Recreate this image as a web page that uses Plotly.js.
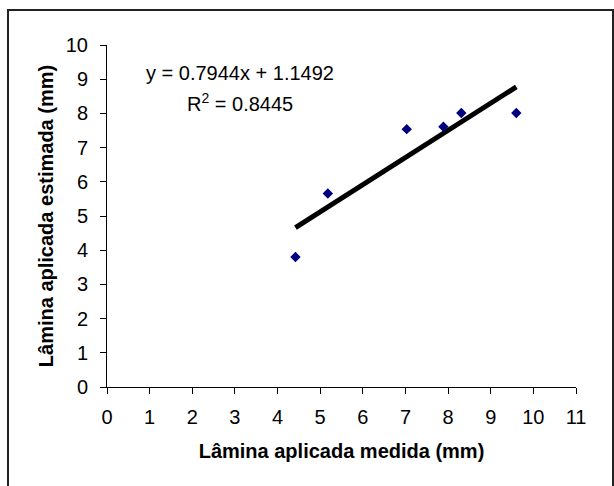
<!DOCTYPE html>
<html>
<head>
<meta charset="utf-8">
<script src="https://cdn.plot.ly/plotly-3.0.1.min.js"></script>
<style>
  html, body { margin: 0; padding: 0; background: #fff; }
  #chart { width: 614px; height: 486px; }
</style>
</head>
<body>
<div id="chart"></div>
<script>
// Data
const medida   = [4.42, 5.18, 7.03, 7.89, 8.31, 9.60];   // Lâmina aplicada medida (mm)
const estimada = [3.80, 5.66, 7.54, 7.61, 8.01, 8.01];   // Lâmina aplicada estimada (mm)
const slope = 0.7944;
const intercept = 1.1492;
const r2 = 0.8445;
const xTickVals = [0,1,2,3,4,5,6,7,8,9,10,11];
const yTickVals = [0,1,2,3,4,5,6,7,8,9,10];

const xMin = Math.min(...medida), xMax = Math.max(...medida);
const trendX = [xMin, xMax];
const trendY = trendX.map(v => slope * v + intercept);

const FONT = '"Liberation Sans", Arial, sans-serif';

const traces = [
  {
    x: trendX, y: trendY, type: 'scatter', mode: 'lines',
    line: { color: '#000000', width: 5 },
    hoverinfo: 'skip', showlegend: false
  },
  {
    x: medida, y: estimada, type: 'scatter', mode: 'markers',
    marker: { symbol: 'diamond', size: 8, color: '#000080' },
    showlegend: false
  }
];

const axisCommon = {
  showgrid: false, zeroline: false, showline: true,
  linecolor: '#000000', linewidth: 1,
  ticks: 'outside', ticklen: 6, tickwidth: 1, tickcolor: '#000000',
  tickfont: { family: FONT, size: 20, color: '#000000' }
};

const layout = {
  width: 614, height: 486,
  margin: { l: 107, r: 38, t: 45, b: 99 },
  paper_bgcolor: '#ffffff', plot_bgcolor: '#ffffff',
  font: { family: FONT, color: '#000000' },
  showlegend: false,
  xaxis: Object.assign({}, axisCommon, {
    range: [0, 11], tickvals: xTickVals, ticklabelstandoff: 6,
    title: { text: 'Lâmina aplicada medida (mm)', standoff: 16,
             font: { family: FONT, size: 20, color: '#000000', weight: 'bold' } }
  }),
  yaxis: Object.assign({}, axisCommon, {
    range: [0, 10], tickvals: yTickVals, ticklabelstandoff: 8,
    title: { text: 'Lâmina aplicada estimada (mm)', standoff: 6,
             font: { family: FONT, size: 20, color: '#000000', weight: 'bold' } }
  }),
  annotations: [
    { xref: 'x', yref: 'y', x: 3.12, y: 9.19, showarrow: false,
      text: 'y = ' + slope.toFixed(4) + 'x + ' + intercept.toFixed(4),
      font: { family: FONT, size: 20, color: '#000000' } },
    { xref: 'x', yref: 'y', x: 3.12, y: 8.33, showarrow: false,
      text: 'R<sup>2</sup> = ' + r2.toFixed(4),
      font: { family: FONT, size: 20, color: '#000000' } }
  ],
  shapes: [
    { type: 'rect', xref: 'paper', yref: 'paper',
      x0: -0.2111, x1: 1.0789, y0: -0.5, y1: 1.1023,
      line: { color: '#222222', width: 2 }, fillcolor: 'rgba(0,0,0,0)', layer: 'below' }
  ]
};

Plotly.newPlot('chart', traces, layout, { displayModeBar: false, staticPlot: true });
</script>
</body>
</html>
